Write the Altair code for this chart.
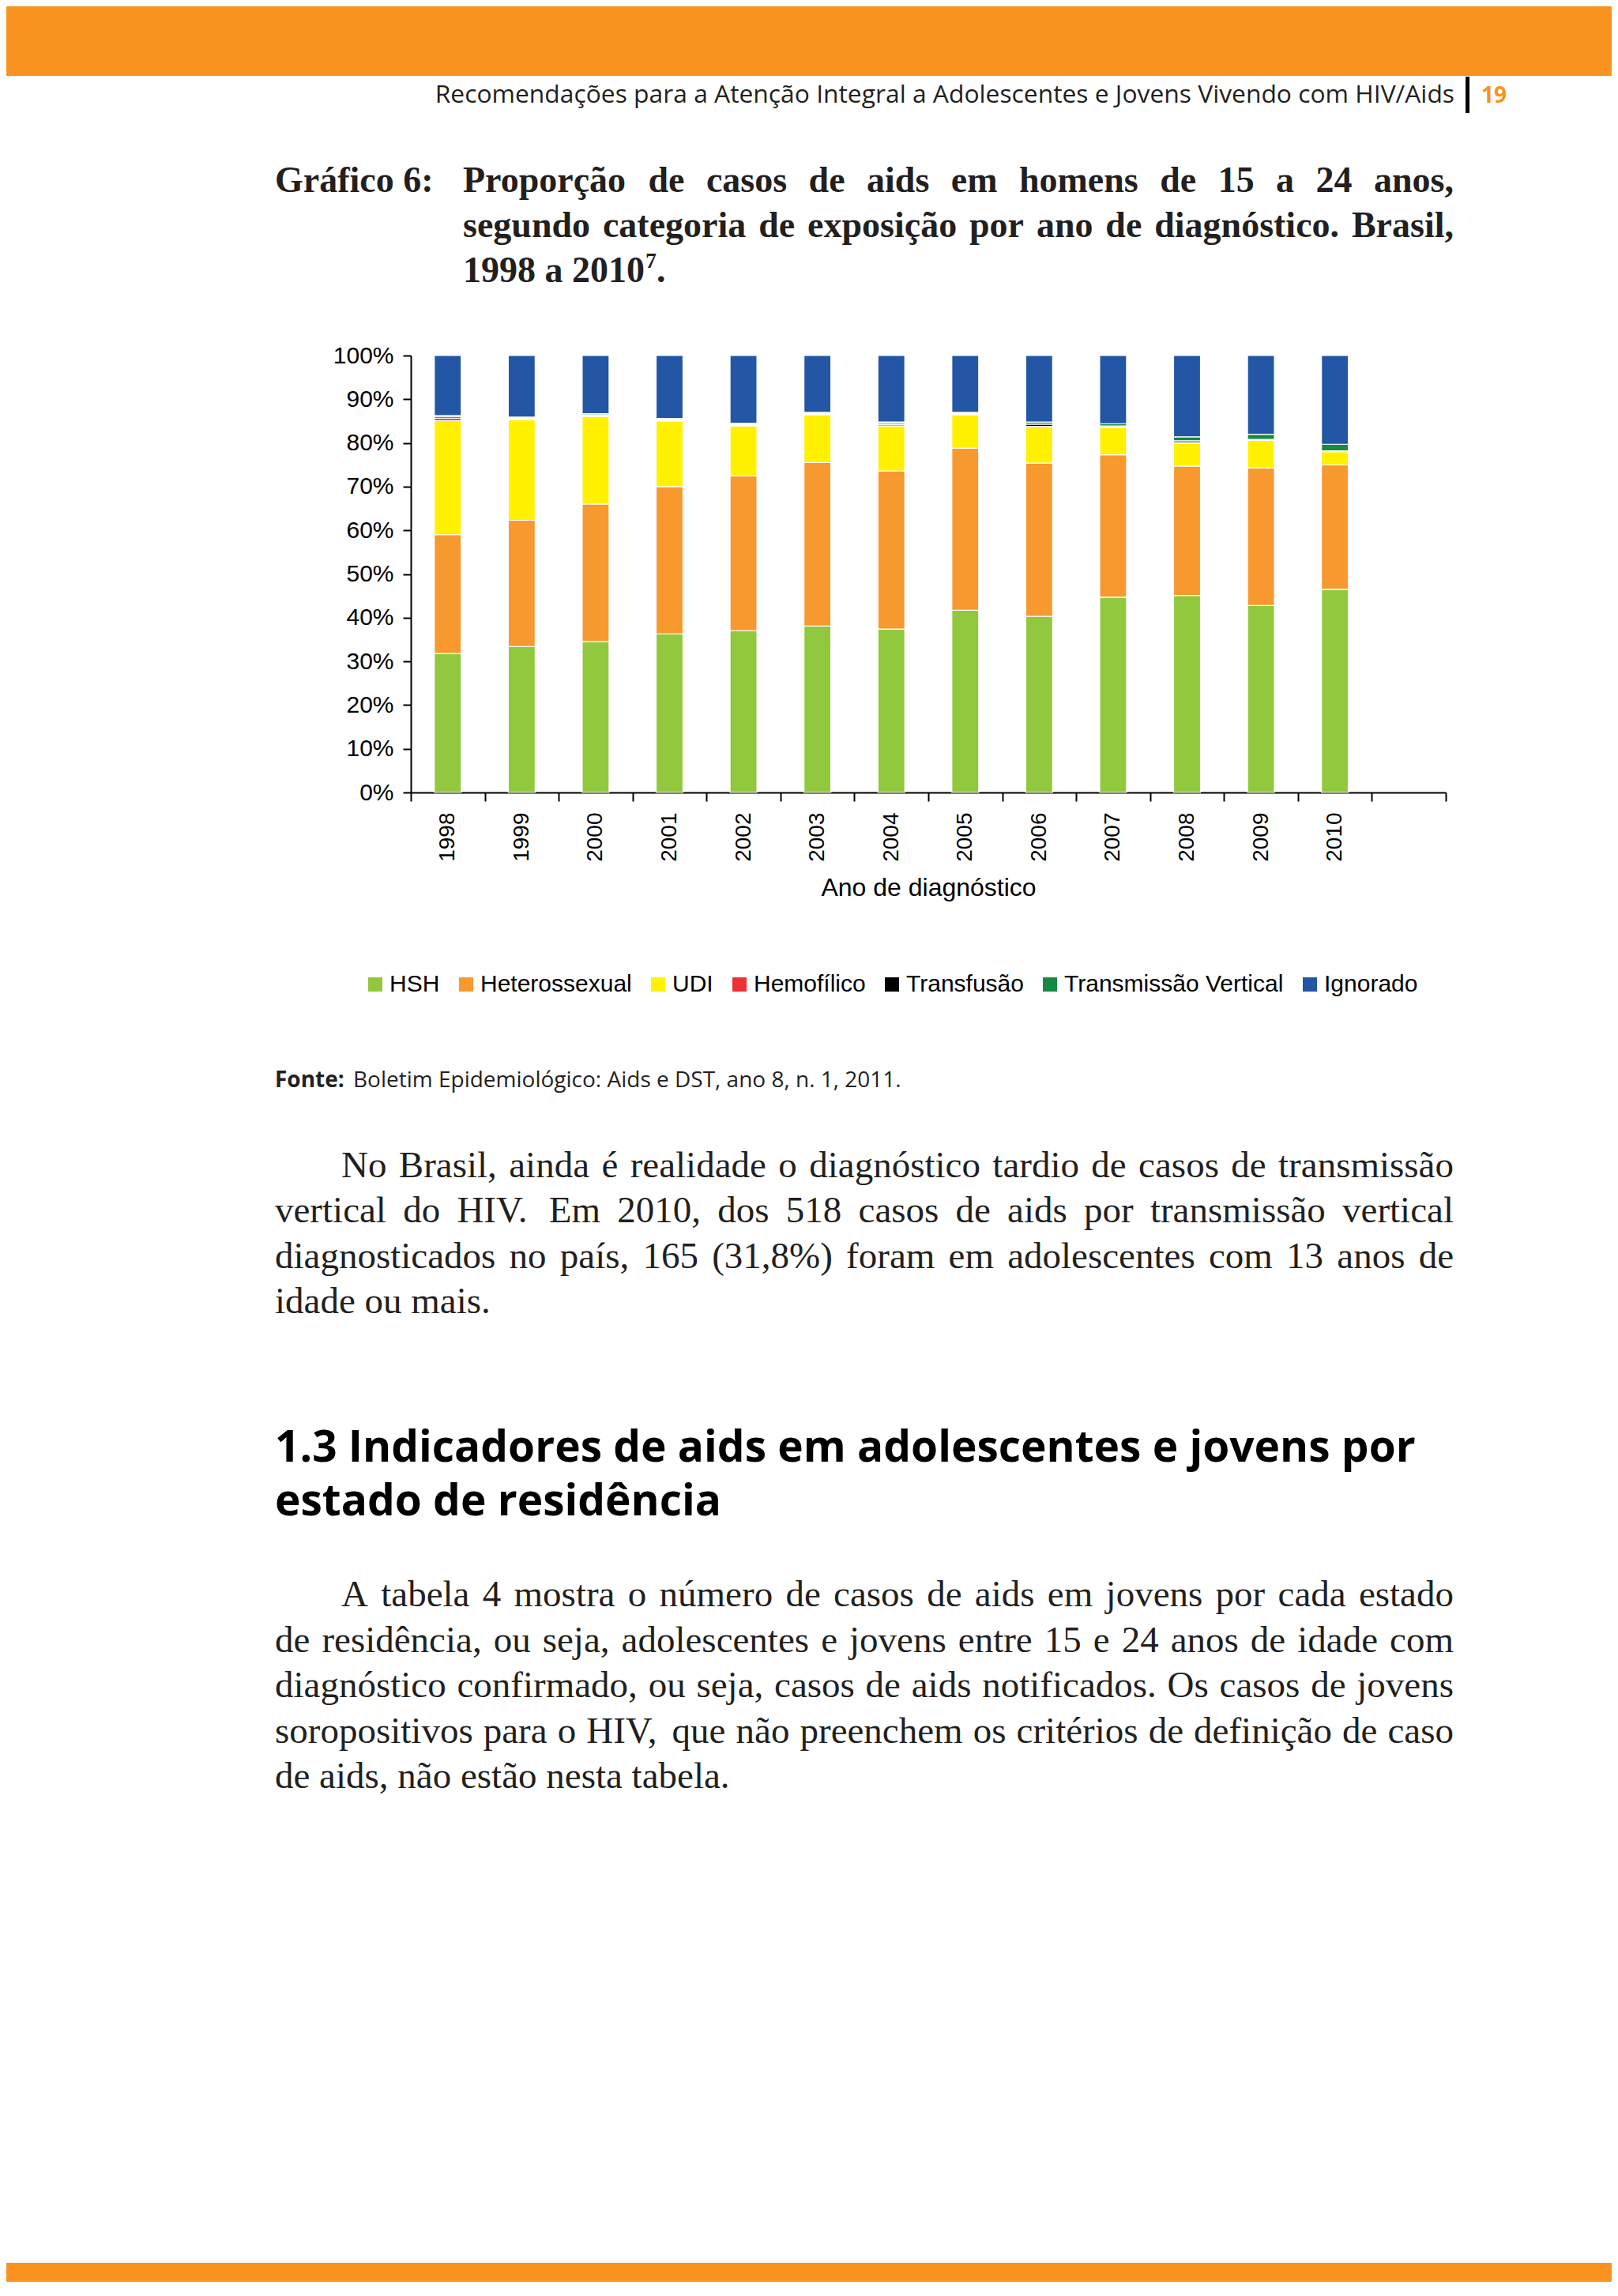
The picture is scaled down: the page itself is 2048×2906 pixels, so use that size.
import unicodedata
import altair as alt
import pandas as pd

# ---------------- data ----------------
years = [str(y) for y in range(1998, 2011)]
categories = ["HSH", "Heterossexual", "UDI", "Hemofílico", "Transfusão",
              "Transmissão Vertical", "Ignorado"]
colors = ["#92C83E", "#F7992F", "#FFF100", "#EC3237", "#000000", "#168944", "#2356A4"]

hsh = [31.8, 33.4, 34.5, 36.3, 37.0, 38.1, 37.4, 41.7, 40.3, 44.7, 45.1, 42.8, 46.5]
hetero = [27.2, 28.9, 31.5, 33.7, 35.5, 37.4, 36.2, 37.1, 35.1, 32.6, 29.6, 31.5, 28.5]
udi = [26.1, 23.0, 20.0, 15.0, 11.4, 10.9, 10.3, 7.6, 8.1, 6.2, 5.2, 6.3, 3.0]
hemofilico = [0.6, 0.2, 0.2, 0.2, 0.2, 0.2, 0.3, 0.2, 0.3, 0.1, 0.2, 0.1, 0.1]
transfusao = [0.3, 0.2, 0.2, 0.2, 0.2, 0.2, 0.3, 0.2, 0.5, 0.3, 0.4, 0.1, 0.1]
vertical = [0.3, 0.2, 0.3, 0.2, 0.2, 0.2, 0.3, 0.2, 0.5, 0.5, 0.9, 1.2, 1.5]
ignorado = [13.7, 14.1, 13.3, 14.4, 15.5, 13.0, 15.2, 13.0, 15.2, 15.6, 18.6, 18.0, 20.3]

series = [hsh, hetero, udi, hemofilico, transfusao, vertical, ignorado]
x_domain = years + [" "]  # empty 14th band, as in the original axis

rows = []
for ci, (cat, vals) in enumerate(zip(categories, series)):
    for yr, v in zip(years, vals):
        rows.append({"ano": yr, "categoria": cat, "pct": v, "ord": ci})
bars_df = pd.DataFrame(rows)

# ---------------- page text ----------------
header_text = "Recomendações para a Atenção Integral a Adolescentes e Jovens Vivendo com HIV/Aids"
page_number = "19"
title_label = "Gráfico 6:"
title_lines = ["Proporção de casos de aids em homens de 15 a 24 anos,",
               "segundo categoria de exposição por ano de diagnóstico. Brasil,",
               "1998 a 2010"]
title_sup = "7"
fonte_bold = "Fonte:"
fonte_text = "Boletim Epidemiológico: Aids e DST, ano 8, n. 1, 2011."
para1 = ["No Brasil, ainda é realidade o diagnóstico tardio de casos de transmissão",
         "vertical do HIV. Em 2010, dos 518 casos de aids por transmissão vertical",
         "diagnosticados no país, 165 (31,8%) foram em adolescentes com 13 anos de",
         "idade ou mais."]
heading = ["1.3 Indicadores de aids em adolescentes e jovens por",
           "estado de residência"]
para2 = ["A tabela 4 mostra o número de casos de aids em jovens por cada estado",
         "de residência, ou seja, adolescentes e jovens entre 15 e 24 anos de idade com",
         "diagnóstico confirmado, ou seja, casos de aids notificados. Os casos de jovens",
         "soropositivos para o HIV, que não preenchem os critérios de definição de caso",
         "de aids, não estão nesta tabela."]

# Times (Liberation Serif) advance widths, 1/1000 em
TR = {' ': 250, 'a': 444, 'b': 500, 'c': 444, 'd': 500, 'e': 444, 'f': 333, 'g': 500, 'h': 500,
      'i': 278, 'j': 278, 'k': 500, 'l': 278, 'm': 778, 'n': 500, 'o': 500, 'p': 500, 'q': 500,
      'r': 333, 's': 389, 't': 278, 'u': 500, 'v': 500, 'w': 722, 'x': 500, 'y': 500, 'z': 444,
      'A': 722, 'B': 667, 'C': 667, 'D': 722, 'E': 611, 'F': 556, 'G': 722, 'H': 722, 'I': 333,
      'J': 389, 'K': 722, 'L': 611, 'M': 889, 'N': 722, 'O': 722, 'P': 556, 'Q': 722, 'R': 667,
      'S': 556, 'T': 611, 'U': 722, 'V': 722, 'W': 944, 'X': 722, 'Y': 722, 'Z': 611,
      '.': 250, ',': 250, ':': 278, ';': 278, '(': 333, ')': 333, '%': 833, '/': 278, '-': 333}
TB = {' ': 250, 'a': 500, 'b': 556, 'c': 444, 'd': 556, 'e': 444, 'f': 333, 'g': 500, 'h': 556,
      'i': 278, 'j': 333, 'k': 556, 'l': 278, 'm': 833, 'n': 556, 'o': 500, 'p': 556, 'q': 556,
      'r': 444, 's': 389, 't': 333, 'u': 556, 'v': 500, 'w': 722, 'x': 500, 'y': 500, 'z': 444,
      'A': 722, 'B': 667, 'C': 722, 'D': 722, 'E': 667, 'F': 611, 'G': 778, 'H': 778, 'I': 389,
      'J': 500, 'K': 778, 'L': 667, 'M': 944, 'N': 722, 'O': 778, 'P': 611, 'Q': 778, 'R': 722,
      'S': 556, 'T': 667, 'U': 722, 'V': 722, 'W': 1000, 'X': 722, 'Y': 722, 'Z': 667,
      '.': 250, ',': 250, ':': 333, ';': 333, '(': 333, ')': 333, '%': 1000, '/': 278, '-': 333}


def tw(s, table, size):
    tot = 0
    for ch in s:
        b = unicodedata.normalize("NFD", ch)[0]
        tot += table.get(b, 500)
    return tot * size / 1000.0


OX, OY = 520, 450  # page position of the plot origin
text_rows = []


def put(style, text, x, y):
    text_rows.append({"style": style, "text": text, "px": x - OX, "py": y - OY})


def line_words(style, line, x0, y, size, table, x1=None):
    words = line.split(" ")
    ws = [tw(w, table, size) for w in words]
    if x1 is None or len(words) == 1:
        gap = 0.25 * size
    else:
        gap = max((x1 - x0 - sum(ws)) / (len(words) - 1), 0.12 * size)
    x = x0
    for w, wd in zip(words, ws):
        put(style, w, x, y)
        x += wd + gap
    return x


STY = {
    "header": dict(font="Open Sans", fontSize=31.8, fontWeight="normal", color="#231F20", align="right"),
    "pagenum": dict(font="Open Sans", fontSize=28, fontWeight="bold", color="#F7931E", align="left"),
    "title": dict(font="Liberation Serif", fontSize=46, fontWeight="bold", color="#231F20", align="left"),
    "sup": dict(font="Liberation Serif", fontSize=28, fontWeight="bold", color="#231F20", align="left"),
    "body": dict(font="Liberation Serif", fontSize=47, fontWeight="normal", color="#231F20", align="left"),
    "heading": dict(font="Open Sans", fontSize=55, fontWeight="bold", color="#000000", align="left"),
    "fonteb": dict(font="Open Sans", fontSize=28, fontWeight="bold", color="#231F20", align="left"),
    "fonte": dict(font="Open Sans", fontSize=28, fontWeight="normal", color="#231F20", align="left"),
}

put("header", header_text, 1841, 130)
put("pagenum", page_number, 1875, 130)

# title
put("title", title_label, 348, 243)
line_words("title", title_lines[0], 586, 243, 46, TB, 1840)
line_words("title", title_lines[1], 586, 300, 46, TB, 1840)
put("title", title_lines[2], 586, 357)
xe = 586 + tw(title_lines[2], TB, 46) + 1
put("sup", title_sup, xe, 339)
put("title", ".", xe + tw(title_sup, TB, 28), 357)

# source
put("fonteb", fonte_bold, 348, 1376)
put("fonte", fonte_text, 447, 1376)

# paragraph 1
p1_y = [1490, 1547, 1605, 1662]
for i, (ln, yy) in enumerate(zip(para1, p1_y)):
    x0 = 432 if i == 0 else 348
    last = i == len(para1) - 1
    line_words("body", ln, x0, yy, 47, TR, None if last else 1840)

# heading
put("heading", heading[0], 348, 1850)
put("heading", heading[1], 348, 1918)

# paragraph 2
p2_y = [2033, 2091, 2148, 2206, 2263]
for i, (ln, yy) in enumerate(zip(para2, p2_y)):
    x0 = 432 if i == 0 else 348
    last = i == len(para2) - 1
    line_words("body", ln, x0, yy, 47, TR, None if last else 1840)

text_df = pd.DataFrame(text_rows)

ORANGE = "#F8931F"
deco_df = pd.DataFrame({
    "x": [8 - OX, 8 - OX, 1855 - OX],
    "x2": [2040 - OX, 2040 - OX, 1860 - OX],
    "y": [8 - OY, 2864 - OY, 97 - OY],
    "y2": [96 - OY, 2888 - OY, 143 - OY],
    "c": [ORANGE, ORANGE, "#000000"],
})

# ---------------- chart ----------------
AXF = "Liberation Sans"

bars = alt.Chart(bars_df).mark_bar(width=34, stroke="white", strokeWidth=1.2).encode(
    x=alt.X("ano:N", scale=alt.Scale(domain=x_domain, paddingInner=0, paddingOuter=0),
            axis=alt.Axis(title="Ano de diagnóstico", labelAngle=270, labelFont=AXF,
                          labelFontSize=28, labelColor="black", labelPadding=14,
                          tickBand="extent", tickSize=11, tickWidth=2, tickColor="black",
                          domainColor="black", domainWidth=2, titleFont=AXF,
                          titleFontSize=32, titleFontWeight="normal", titleColor="black",
                          titleY=130, titleBaseline="alphabetic")),
    y=alt.Y("pct:Q", stack="normalize", scale=alt.Scale(domain=[0, 1], nice=False),
            axis=alt.Axis(title=None, format=".0%", values=[i / 10 for i in range(11)],
                          grid=False, labelFont=AXF, labelFontSize=30, labelColor="black",
                          labelPadding=12, tickSize=10, tickWidth=2, tickColor="black",
                          domainColor="black", domainWidth=2)),
    color=alt.Color("categoria:N", scale=alt.Scale(domain=categories, range=colors),
                    legend=alt.Legend(orient="none", legendX=-60, legendY=781,
                                      direction="horizontal", title=None,
                                      symbolType="square", symbolSize=324,
                                      symbolStrokeWidth=0, symbolOpacity=1,
                                      labelFont=AXF, labelFontSize=30, labelColor="black",
                                      labelOffset=3, columnPadding=18, labelLimit=600)),
    order=alt.Order("ord:Q", sort="ascending"),
)

deco = alt.Chart(deco_df).mark_rect().encode(
    x=alt.X("x:Q", scale=None, axis=None),
    x2="x2:Q",
    y=alt.Y("y:Q", scale=None, axis=None),
    y2="y2:Q",
    color=alt.Color("c:N", scale=None, legend=None),
)

layers = [deco, bars]
for st, p in STY.items():
    sub = text_df[text_df["style"] == st]
    layers.append(
        alt.Chart(sub).mark_text(baseline="alphabetic", **p).encode(
            x=alt.X("px:Q", scale=None, axis=None),
            y=alt.Y("py:Q", scale=None, axis=None),
            text=alt.Text("text:N"),
        )
    )

chart = alt.layer(*layers).resolve_scale(
    x="independent", y="independent", color="independent"
).properties(
    width=1310, height=553,
    autosize=alt.AutoSizeParams(type="none"),
    padding={"left": 512, "top": 442, "right": 210, "bottom": 1885},
    background="white",
).configure_view(stroke=None)

chart.save("out.html", embed_options={"renderer": "svg", "actions": False})
